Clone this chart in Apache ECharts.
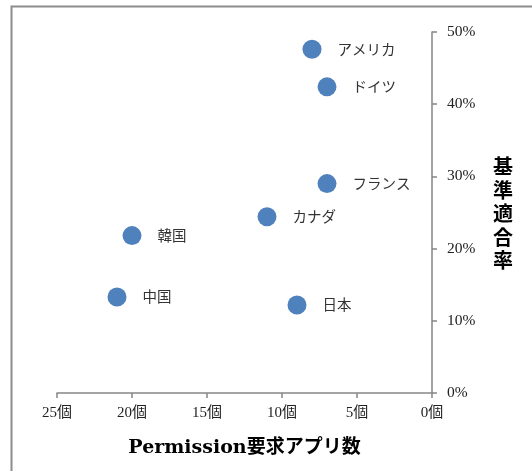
<!DOCTYPE html>
<html><head><meta charset="utf-8">
<script src="https://cdn.jsdelivr.net/npm/echarts@6/dist/echarts.min.js"></script>
<style>html,body{margin:0;padding:0;background:#fff}#c{width:532px;height:471px}</style>
</head><body><div id="c"></div>
<script>
const countries = ["アメリカ","ドイツ","フランス","カナダ","韓国","中国","日本"];
const permissionApps = [8, 7, 7, 11, 20, 21, 9];
const complianceRate = [0.476, 0.424, 0.290, 0.244, 0.218, 0.133, 0.122];
const xTicks = [0, 5, 10, 15, 20, 25];
const yTicks = [0, 0.1, 0.2, 0.3, 0.4, 0.5];

const tickFont = '"Liberation Serif","Noto Sans CJK JP",serif';
const titleFont = '"DejaVu Serif","Noto Sans CJK JP",serif';
const chart = echarts.init(document.getElementById('c'), null, {renderer:'canvas'});
const axisColor = '#868686';
chart.setOption({
  animation:false,
  backgroundColor:'#fff',
  grid:{left:57, right:100, top:32, bottom:78},
  xAxis:{
    type:'value', inverse:true, min:0, max:25, interval:5,
    axisLine:{show:true, lineStyle:{color:axisColor, width:1.5}},
    axisTick:{show:true, inside:false, length:5, lineStyle:{color:axisColor, width:1.5}},
    splitLine:{show:false},
    axisLabel:{margin:13, color:'#222', fontSize:15, fontFamily:tickFont,
      formatter:v=>v+'個'},
    name:'Permission要求アプリ数', nameLocation:'middle', nameGap:46,
    nameTextStyle:{fontSize:19, fontWeight:'bold', color:'#000', fontFamily:titleFont}
  },
  yAxis:{
    type:'value', position:'right', min:0, max:0.5, interval:0.1,
    axisLine:{show:true, onZero:false, lineStyle:{color:axisColor, width:1.5}},
    axisTick:{show:true, inside:false, length:5, lineStyle:{color:axisColor, width:1.5}},
    splitLine:{show:false},
    axisLabel:{margin:15, color:'#222', fontSize:15.5, fontFamily:tickFont,
      formatter:v=>Math.round(v*100)+'%'}
  },
  graphic:[
    {type:'rect', shape:{x:11.5, y:6.5, width:540, height:490},
     style:{fill:'none', stroke:'#8c8c8c', lineWidth:2}, silent:true, z:-1},
    {type:'text', left:493, top:155,
     style:{text:'基\n準\n適\n合\n率', font:'bold 20px "Noto Sans CJK JP"', fill:'#000', lineHeight:23.5}}
  ],
  series:[{
    type:'scatter',
    symbolSize:19,
    itemStyle:{color:'#4f81bd', opacity:1},
    data: countries.map((n,i)=>({name:n, value:[permissionApps[i], complianceRate[i]]})),
    label:{show:true, position:'right', distance:16, formatter:p=>p.name,
      color:'#333', fontSize:14.5, fontFamily:'"Noto Sans CJK JP"'}
  }]
});
</script></body></html>
